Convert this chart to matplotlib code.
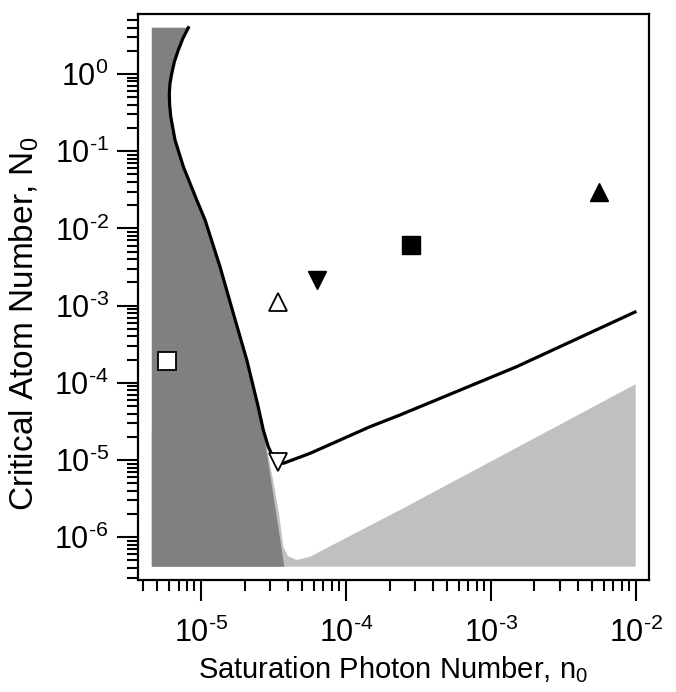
import numpy as np
import matplotlib
matplotlib.use("Agg")
import matplotlib.pyplot as plt
from matplotlib.ticker import LogLocator, NullFormatter, FixedLocator, FuncFormatter

plt.rcParams['font.family'] = ['Liberation Sans', 'DejaVu Sans']
plt.rcParams['mathtext.fontset'] = 'custom'
plt.rcParams['mathtext.rm'] = 'Liberation Sans'
plt.rcParams['mathtext.it'] = 'Liberation Sans:italic'
plt.rcParams['mathtext.default'] = 'regular'

# threshold curve (black line)
n_curve = [8.17e-6, 7.5e-6, 6.97e-6, 6.55e-6, 6.28e-6, 6.1e-6, 6.04e-6, 6.07e-6, 6.18e-6,
           6.61e-6, 7.55e-6, 9.34e-6, 1.066e-5, 1.352e-5, 1.67e-5, 2.07e-5, 2.48e-5,
           2.69e-5, 2.91e-5, 3.10e-5, 3.33e-5, 3.70e-5, 5.65e-5, 1.466e-4, 2.36e-4,
           1.51e-3, 9.89e-3]
N_curve = [3.98, 2.9, 2.05, 1.45, 1.02, 0.75, 0.562, 0.40, 0.280,
           0.140, 0.063, 0.0233, 0.01285, 3.19e-3, 7.94e-4, 1.97e-4, 4.9e-5,
           2.45e-5, 1.49e-5, 1.15e-5, 1.0e-5, 9.06e-6, 1.22e-5, 2.70e-5, 3.83e-5,
           1.62e-4, 8.26e-4]

# dark region: left edge, and lower part of its right edge
n_min, N_min, N_top = 4.57e-6, 4.15e-7, 3.98
dark_edge_n = [2.69e-5, 3.76e-5]
dark_edge_N = [2.45e-5, 4.15e-7]

# light region upper boundary
light_n = [2.69e-5, 3.14e-5, 3.45e-5, 3.70e-5, 3.98e-5, 4.57e-5, 5.65e-5, 2.36e-4, 1.0e-2]
light_N = [2.45e-5, 5.5e-6, 2.04e-6, 7.5e-7, 5.7e-7, 5.07e-7, 5.59e-7, 2.25e-6, 9.6e-5]

# experimental points
open_sq = (5.78e-6, 1.93e-4)
open_up = (3.38e-5, 1.12e-3)
open_dn = (3.38e-5, 9.4e-6)
fill_dn = (6.32e-5, 2.15e-3)
fill_sq = (2.81e-4, 6.1e-3)
fill_up = (5.58e-3, 2.99e-2)

x_decades = [-5, -4, -3, -2]
y_decades = [-6, -5, -4, -3, -2, -1, 0]

fig = plt.figure(figsize=(6.76, 6.92), dpi=100)
ax = fig.add_axes([0.2041, 0.1618, 0.7559, 0.818])
ax.set_xscale('log')
ax.set_yscale('log')

# light gray region
lx = light_n + [light_n[-1], n_min, n_min]
ly = light_N + [N_min, N_min, light_N[0]]
ax.fill(lx, ly, color='#c0c0c0', lw=0, zorder=1)

# dark gray region (follows the steep part of the curve)
k = n_curve.index(dark_edge_n[0])
dx = [n_min, n_min] + n_curve[:k] + dark_edge_n
dy = [N_min, N_top] + N_curve[:k] + dark_edge_N
ax.fill(dx, dy, color='#808080', lw=0, zorder=2)

ax.plot(n_curve, N_curve, color='black', lw=2.3, zorder=3)

ms = 12.5
ax.plot(*open_sq, 's', ms=ms, mfc='white', mec='black', mew=1.3, zorder=4)
ax.plot(*open_up, '^', ms=ms, mfc='white', mec='black', mew=1.3, zorder=4)
ax.plot(*open_dn, 'v', ms=ms, mfc='white', mec='black', mew=1.3, zorder=4)
ax.plot(*fill_dn, 'v', ms=ms, color='black', zorder=4)
ax.plot(*fill_sq, 's', ms=ms, color='black', zorder=4)
ax.plot(*fill_up, '^', ms=ms, color='black', zorder=4)

ax.set_xlim(3.67e-6, 1.235e-2)
ax.set_ylim(2.79e-7, 5.99)

def dec_label(v, pos):
    e = int(round(np.log10(v)))
    if e < 0:
        return r'$10^{\text{-}%d}$' % (-e)
    return r'$10^{%d}$' % e

ax.xaxis.set_major_locator(FixedLocator([10.0 ** e for e in x_decades]))
ax.yaxis.set_major_locator(FixedLocator([10.0 ** e for e in y_decades]))
for a in (ax.xaxis, ax.yaxis):
    a.set_major_formatter(FuncFormatter(dec_label))
    a.set_minor_locator(LogLocator(base=10, subs=np.arange(2, 10), numticks=20))
    a.set_minor_formatter(NullFormatter())

ax.tick_params(which='major', direction='out', length=15, width=1.5, labelsize=22)
ax.tick_params(which='minor', direction='out', length=8, width=1.5)
ax.tick_params(axis='y', which='major', pad=6)
ax.tick_params(axis='x', which='major', pad=12)
ax.tick_params(top=False, right=False, which='both')
for s in ax.spines.values():
    s.set_linewidth(1.6)

ax.set_xlabel('Saturation Photon Number, n$_0$', fontsize=21, labelpad=4)
ax.set_ylabel('Critical Atom Number, N$_0$', fontsize=24)
ax.yaxis.set_label_coords(-0.19, 0.452)

fig.savefig('out.png', dpi=100)
